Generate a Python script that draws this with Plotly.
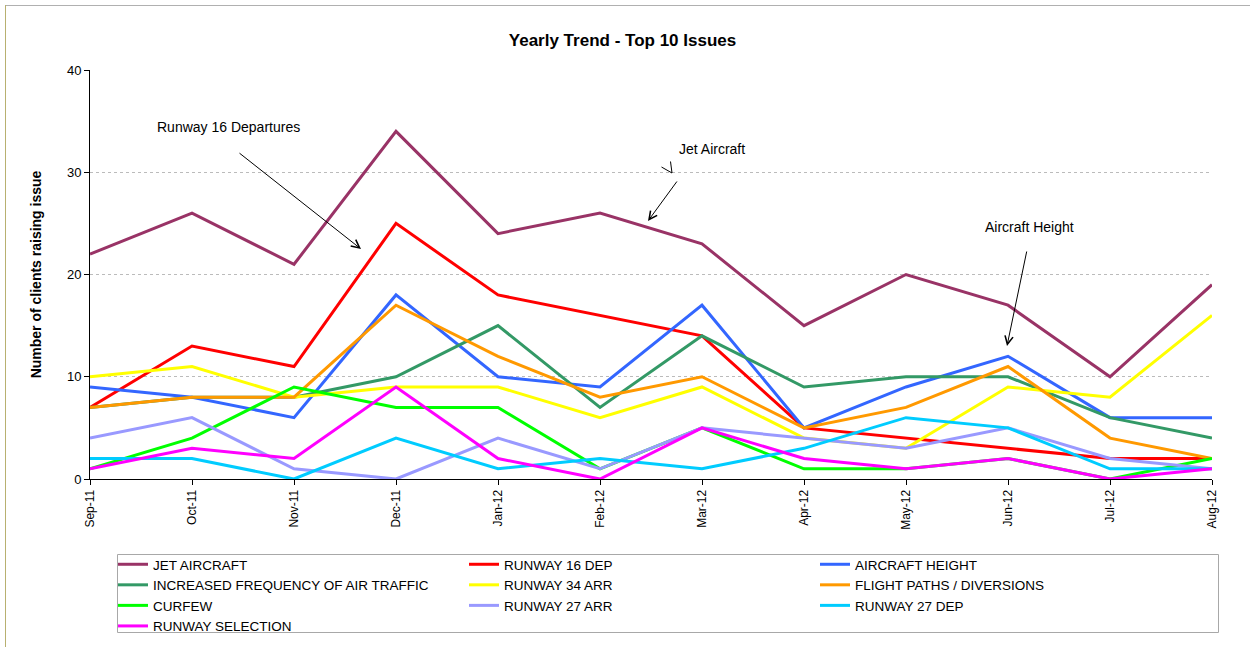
import plotly.graph_objects as go

months = ["Sep-11", "Oct-11", "Nov-11", "Dec-11", "Jan-12", "Feb-12",
          "Mar-12", "Apr-12", "May-12", "Jun-12", "Jul-12", "Aug-12"]

jet_aircraft = [22, 26, 21, 34, 24, 26, 23, 15, 20, 17, 10, 19]
runway_16_dep = [7, 13, 11, 25, 18, 16, 14, 5, 4, 3, 2, 2]
aircraft_height = [9, 8, 6, 18, 10, 9, 17, 5, 9, 12, 6, 6]
increased_frequency = [7, 8, 8, 10, 15, 7, 14, 9, 10, 10, 6, 4]
runway_34_arr = [10, 11, 8, 9, 9, 6, 9, 4, 3, 9, 8, 16]
flight_paths = [7, 8, 8, 17, 12, 8, 10, 5, 7, 11, 4, 2]
curfew = [1, 4, 9, 7, 7, 1, 5, 1, 1, 2, 0, 2]
runway_27_arr = [4, 6, 1, 0, 4, 1, 5, 4, 3, 5, 2, 1]
runway_27_dep = [2, 2, 0, 4, 1, 2, 1, 3, 6, 5, 1, 1]
runway_selection = [1, 3, 2, 9, 2, 0, 5, 2, 1, 2, 0, 1]

series = [
    ("JET AIRCRAFT", jet_aircraft, "#993366"),
    ("RUNWAY 16 DEP", runway_16_dep, "#FF0000"),
    ("AIRCRAFT HEIGHT", aircraft_height, "#3366FF"),
    ("INCREASED FREQUENCY OF AIR TRAFFIC", increased_frequency, "#339966"),
    ("RUNWAY 34 ARR", runway_34_arr, "#FFFF00"),
    ("FLIGHT PATHS / DIVERSIONS", flight_paths, "#FF9900"),
    ("CURFEW", curfew, "#00FF00"),
    ("RUNWAY 27 ARR", runway_27_arr, "#9999FF"),
    ("RUNWAY 27 DEP", runway_27_dep, "#00CCFF"),
    ("RUNWAY SELECTION", runway_selection, "#FF00FF"),
]

FONT = "Liberation Sans, Arial, sans-serif"

fig = go.Figure()
for name, vals, color in series:
    fig.add_trace(go.Scatter(
        x=list(range(len(months))), y=vals, name=name, mode="lines",
        line=dict(color=color, width=3),
    ))

# plot area geometry (px) for placing annotations
L, R, T, B = 90, 1212, 70, 479
def px(x):
    return (x - L) / (R - L)
def py(y):
    return (B - y) / (B - T)

annotations = []
def label(text, x, y):
    annotations.append(dict(text=text, x=px(x), y=py(y), xref="paper", yref="paper",
                            showarrow=False, font=dict(size=14, color="#000000", family=FONT),
                            xanchor="center", yanchor="middle"))
def arrow(tx, ty, hx, hy):
    annotations.append(dict(text="", x=px(hx), y=py(hy), xref="paper", yref="paper",
                            ax=tx - hx, ay=ty - hy, axref="pixel", ayref="pixel",
                            showarrow=True, arrowhead=5, arrowsize=1.6, arrowwidth=1,
                            arrowcolor="#000000", standoff=0, startstandoff=0))

label("Runway 16 Departures", 228, 127)
arrow(238, 152, 361, 249)
label("Jet Aircraft", 712, 149)
arrow(678, 180, 648, 221)
label("Aircraft Height", 1029, 227)
arrow(1027, 250, 1007, 346)

shapes = [
    # stray tick near Jet Aircraft label
    dict(type="path", xref="paper", yref="paper",
         path=f"M {px(661.5)} {py(167)} L {px(672)} {py(173)} L {px(670.5)} {py(161.5)}",
         line=dict(color="#000000", width=1)),
    # outer frame
    dict(type="line", xref="paper", yref="paper", x0=px(5), x1=px(1250), y0=py(5.5), y1=py(5.5),
         line=dict(color="#B0B0B0", width=1)),
    dict(type="line", xref="paper", yref="paper", x0=px(5.5), x1=px(5.5), y0=py(5), y1=py(647),
         line=dict(color="#B8B070", width=1)),
    # legend box
    dict(type="rect", xref="paper", yref="paper", x0=px(117.5), x1=px(1218.5),
         y0=py(554.5), y1=py(632.5), line=dict(color="#A8A8A8", width=1),
         fillcolor="rgba(0,0,0,0)"),
]

fig.update_layout(
    width=1250, height=647,
    margin=dict(l=L, r=1250 - R, t=T, b=647 - B, autoexpand=False),
    paper_bgcolor="white", plot_bgcolor="white",
    font=dict(family=FONT, size=13, color="#000000"),
    title=dict(text="<b>Yearly Trend - Top 10 Issues</b>", x=0.498, xref="container",
               y=1 - 40 / 647, yref="container", xanchor="center", yanchor="middle",
               font=dict(size=17, family=FONT, color="#000000")),
    xaxis=dict(
        tickmode="array", tickvals=list(range(len(months))), ticktext=months,
        range=[0, len(months) - 1], tickangle=-90, showgrid=False,
        showline=True, linecolor="#000000", linewidth=1,
        ticks="outside", ticklen=5, tickcolor="#000000",
        tickfont=dict(size=12, family=FONT), zeroline=False, automargin=False,
    ),
    yaxis=dict(
        range=[0, 40], dtick=10, showgrid=True, gridcolor="#BBBBBB", griddash="dot",
        gridwidth=1, showline=True, linecolor="#000000", linewidth=1,
        ticks="outside", ticklen=5, tickcolor="#000000",
        tickfont=dict(size=13, family=FONT), zeroline=False, automargin=False,
        title=dict(text="<b>Number of clients raising issue</b>", standoff=22,
                   font=dict(size=14, family=FONT)),
    ),
    legend=dict(
        orientation="h", x=px(113), y=py(549), xanchor="left", yanchor="top",
        entrywidth=306, entrywidthmode="pixels",
        bordercolor="rgba(0,0,0,0)", borderwidth=0, bgcolor="rgba(0,0,0,0)",
        font=dict(size=13.5, family=FONT), traceorder="normal",
        itemwidth=30, tracegroupgap=0,
    ),
    annotations=annotations,
    shapes=shapes,
    showlegend=True,
)

fig.write_html("out.html")
